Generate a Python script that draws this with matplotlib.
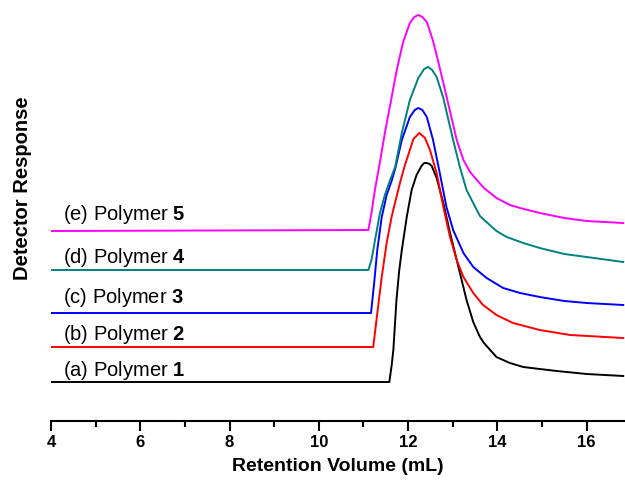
import matplotlib.pyplot as plt

plt.rcParams['font.family'] = ['Liberation Sans', 'DejaVu Sans']
plt.rcParams['mathtext.fontset'] = 'custom'
plt.rcParams['mathtext.rm'] = 'Liberation Sans'
plt.rcParams['mathtext.bf'] = 'Liberation Sans:bold'

# GPC traces (x in mL, y in arbitrary detector units, offset per trace)
x_a = [4.0, 11.58, 11.63, 11.67, 11.74, 11.80, 11.86, 11.97, 12.08, 12.19, 12.30, 12.36, 12.42,
       12.48, 12.53, 12.64, 12.79, 12.94, 13.09, 13.20, 13.31, 13.46, 13.54, 13.61, 13.70, 13.80,
       13.98, 14.13, 14.28, 14.58, 14.95, 15.33, 16.00, 16.82]
y_a = [39, 39, 55, 71, 121, 150, 171, 204, 231, 246, 255, 258, 258,
       257, 255, 243, 218, 188, 161, 141, 121, 99, 91, 84, 78, 73,
       64, 61, 58, 54, 52, 50, 47, 45]

x_b = [4.0, 11.22, 11.30, 11.41, 11.52, 11.63, 11.74, 11.83, 11.93, 12.04, 12.12, 12.25, 12.38,
       12.49, 12.64, 12.79, 12.94, 13.09, 13.24, 13.46, 13.68, 13.98, 14.35, 14.95, 15.63, 16.82]
y_b = [74, 74, 104, 144, 178, 204, 224, 240, 256, 271, 282, 288, 283,
       271, 248, 214, 184, 161, 144, 128, 116, 106, 98, 91, 86, 83]

x_c = [4.0, 11.17, 11.24, 11.31, 11.41, 11.52, 11.63, 11.71, 11.86, 12.04, 12.15, 12.23, 12.32,
       12.42, 12.56, 12.71, 12.86, 13.01, 13.24, 13.46, 13.76, 14.13, 14.51, 14.95, 15.50, 16.00,
       16.82]
y_c = [108, 108, 138, 171, 204, 226, 240, 252, 281, 304, 311, 313, 311,
       304, 281, 248, 214, 191, 168, 154, 143, 133, 128, 124, 120, 118,
       116]

x_d = [4.0, 11.11, 11.18, 11.26, 11.37, 11.48, 11.59, 11.71, 11.86, 12.04, 12.23, 12.36, 12.45,
       12.54, 12.64, 12.79, 12.92, 13.01, 13.16, 13.31, 13.39, 13.54, 13.61, 13.83, 13.98, 14.21,
       14.58, 14.95, 15.50, 16.00, 16.82]
y_d = [151, 151, 161, 181, 208, 226, 240, 254, 288, 321, 343, 352, 354,
       351, 344, 323, 298, 281, 254, 231, 224, 211, 205, 196, 190, 184,
       178, 173, 167, 164, 159]

x_e = [4.0, 11.11, 11.18, 11.26, 11.35, 11.48, 11.62, 11.75, 11.89, 12.04, 12.14, 12.23, 12.32,
       12.42, 12.56, 12.71, 12.88, 13.09, 13.24, 13.39, 13.54, 13.70, 13.98, 14.28, 14.51, 14.95,
       15.50, 16.00, 16.82]
y_e = [190, 191, 208, 232, 254, 288, 321, 352, 379, 398, 404, 406, 404,
       399, 380, 353, 321, 281, 261, 249, 241, 233, 223, 216, 213, 208,
       203, 200, 198]

labels = ['(a) Polymer $\\mathbf{1}$', '(b) Polymer $\\mathbf{2}$', '(c) Polymer $\\mathbf{3}$',
          '(d) Polymer $\\mathbf{4}$', '(e) Polymer $\\mathbf{5}$']
label_y = [45, 81, 118, 158, 201.5]
colors = ['black', '#FF0000', '#0000FF', '#008080', '#FF00FF']

fig = plt.figure(figsize=(6.25, 4.84), dpi=100)
ax = fig.add_axes([51 / 625, 63 / 484, 1 - 51 / 625, 1 - 63 / 484])

traces = [(x_a, y_a), (x_b, y_b), (x_c, y_c), (x_d, y_d), (x_e, y_e)]
for (xs, ys), c in zip(traces, colors):
    ax.plot(xs, ys, color=c, lw=1.4, solid_joinstyle='round')

for lab, ly in zip(labels, label_y):
    ax.text(4.27, ly, lab, fontsize=14.5, va='baseline', ha='left')

ax.set_xlim(4, 16.86)
ax.set_ylim(0, 421)
ax.set_xticks([4, 6, 8, 10, 12, 14, 16])
ax.set_xticks([5, 7, 9, 11, 13, 15], minor=True)
ax.set_yticks([])
for s in ['left', 'top', 'right']:
    ax.spines[s].set_visible(False)
ax.spines['bottom'].set_linewidth(1.5)
ax.tick_params(axis='x', which='major', length=7, width=1.5, labelsize=12, pad=3)
ax.tick_params(axis='x', which='minor', length=4, width=1.5)
for t in ax.get_xticklabels():
    t.set_fontweight('bold')

ax.set_xlabel('Retention Volume (mL)', fontsize=14, fontweight='bold', labelpad=6)
fig.text(23 / 625, 1 - 188 / 484, 'Detector Response', rotation=90, fontsize=14.5,
         fontweight='bold', ha='center', va='center')

fig.savefig('out.png', dpi=100)
